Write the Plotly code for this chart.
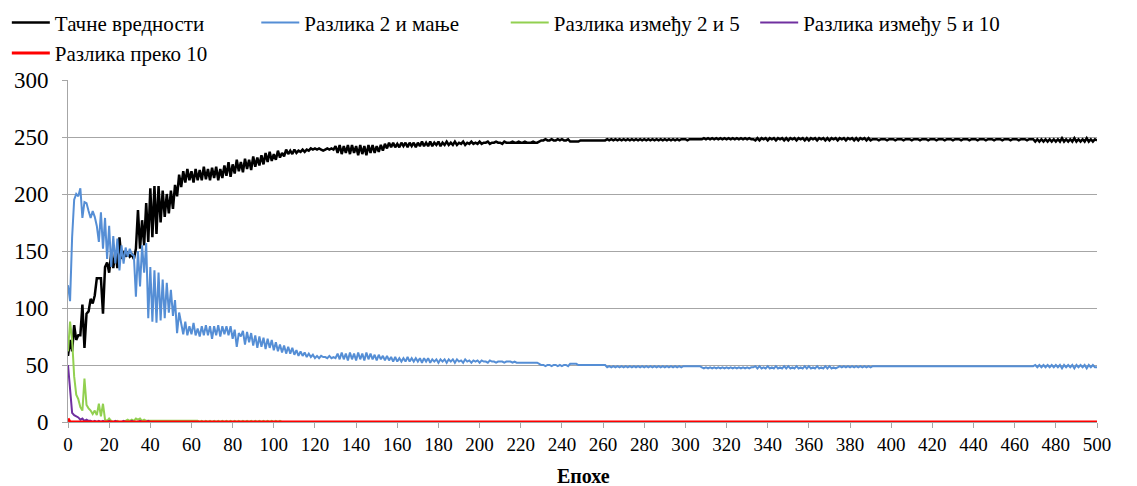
import plotly.graph_objects as go

# ---------------- data ----------------
series_names = ["Тачне вредности", "Разлика 2 и мање", "Разлика између 2 и 5",
                "Разлика између 5 и 10", "Разлика преко 10"]
x_title = "Епохе"
x_ticks = list(range(0, 501, 20))
y_ticks = [0, 50, 100, 150, 200, 250, 300]

exact = [
    58,72,62,85,72,76,76,103,65,95,
    97,108,104,111,126,126,126,95,136,140,
    131,148,135,150,135,162,143,150,145,148,
    145,147,143,152,186,152,177,155,192,158,
    205,162,207,165,207,175,203,180,200,183,
    203,187,208,198,217,206,220,210,222,212,
    220,210,222,212,221,212,224,213,222,212,
    223,214,224,212,222,214,225,216,228,215,
    226,218,230,220,228,219,231,222,230,221,
    233,224,232,225,234,226,236,228,237,229,
    235,230,238,232,236,233,239,235,238,235,
    239,236,238,237,239,237,239,238,240,239,
    240,239,240,239,238,239,240,239,240,239,
    242,236,243,235,242,236,243,235,243,236,
    242,234,243,235,242,234,243,236,243,236,
    242,237,243,238,244,240,245,241,245,241,
    244,241,245,242,245,241,245,242,245,241,
    245,242,246,242,245,242,246,242,245,243,
    246,242,245,243,246,243,245,243,246,243,
    245,244,246,243,245,244,246,244,245,244,
    246,244,245,245,246,244,245,245,246,245,
    245,244,246,245,245,245,246,245,245,246,
    245,245,246,245,245,245,246,245,245,246,
    247,247,248,247,247,248,247,247,248,247,
    248,247,247,248,246,246,246,246,246,247,
    247,247,247,247,247,247,247,247,247,247,
    247,247,248,247,248,247,248,247,248,247,
    248,247,248,247,248,247,248,247,248,247,
    248,247,248,247,248,247,248,247,248,247,
    248,247,248,247,248,247,248,247,248,248,
    248,247,248,248,248,248,248,248,248,249,
    248,249,248,249,248,249,248,249,248,249,
    248,249,248,249,248,249,248,249,248,249,
    248,249,248,248,247,249,247,249,248,249,
    247,249,248,249,247,249,248,249,247,249,
    247,249,248,249,247,249,248,249,247,249,
    247,249,248,249,247,249,248,249,247,249,
    247,249,248,249,247,249,248,249,247,249,
    248,249,247,249,247,249,248,249,247,249,
    247,248,248,248,247,248,248,248,247,248,
    248,248,247,248,248,248,247,248,248,248,
    247,248,248,248,247,248,248,248,247,248,
    248,248,247,248,248,248,247,248,248,248,
    247,248,248,248,247,248,248,248,247,248,
    248,248,247,248,248,248,247,248,248,248,
    247,248,248,248,247,248,248,248,247,248,
    248,248,247,248,248,248,247,248,248,248,
    246,248,246,248,246,248,246,248,246,248,
    246,248,246,249,246,248,246,248,246,249,
    246,248,246,248,246,249,246,248,246,248,
    247,
]

diff_le2 = [
    120,106,162,195,200,198,205,179,193,192,
    185,179,185,180,172,158,184,152,179,143,
    172,136,163,139,161,133,155,139,153,145,
    152,147,146,110,150,119,155,131,157,91,
    136,88,133,87,131,89,125,91,122,96,
    116,93,107,78,96,85,77,88,76,84,
    77,87,76,82,75,84,76,85,76,84,
    73,84,76,85,75,84,77,84,76,84,
    73,81,66,78,75,80,68,79,70,78,
    67,76,65,75,66,74,64,73,65,72,
    63,70,62,68,61,67,60,66,60,65,
    59,63,58,62,58,61,57,60,57,59,
    56,58,56,58,57,57,56,58,56,57,
    56,60,55,61,55,60,54,61,55,60,
    54,61,55,60,54,61,55,60,55,59,
    54,59,55,58,54,58,54,57,53,57,
    53,56,53,56,53,57,53,56,53,56,
    53,56,52,56,53,56,52,55,53,55,
    52,55,53,55,52,55,53,55,52,55,
    53,54,52,55,53,54,52,54,53,54,
    52,54,53,53,52,54,53,53,52,53,
    53,53,52,53,53,53,52,53,52,52,
    52,52,52,52,52,52,52,52,52,51,
    50,50,49,50,50,49,50,50,49,50,
    49,50,50,49,51,51,51,51,50,50,
    50,50,50,50,50,50,50,50,50,50,
    50,50,48,49,48,49,48,49,48,49,
    48,49,48,49,48,49,48,49,48,49,
    48,49,48,49,48,49,48,49,48,49,
    48,49,48,49,48,49,48,49,48,49,
    49,49,49,49,49,49,49,49,48,47,
    48,47,48,47,48,47,48,47,48,47,
    48,47,48,47,48,47,48,47,48,47,
    48,47,48,48,49,47,49,47,48,47,
    49,47,48,47,49,47,48,47,49,47,
    49,47,48,47,49,47,48,47,49,47,
    49,47,48,47,49,47,48,47,49,47,
    49,47,48,47,48,49,48,49,48,49,
    48,49,48,49,48,49,48,49,48,49,
    48,49,49,49,49,49,49,49,49,49,
    49,49,49,49,49,49,49,49,49,49,
    49,49,49,49,49,49,49,49,49,49,
    49,49,49,49,49,49,49,49,49,49,
    49,49,49,49,49,49,49,49,49,49,
    49,49,49,49,49,49,49,49,49,49,
    49,49,49,49,49,49,49,49,49,49,
    49,49,49,49,49,49,49,49,49,49,
    50,48,50,48,50,48,50,48,50,48,
    50,48,50,47,50,48,50,48,50,47,
    50,48,50,48,50,47,50,48,50,48,
    48,
]

# epochs 0-109 explicit, then zeros for 110-500 (391 values)
diff_2_5 = [
    62,88,72,40,24,20,13,10,38,15,
    12,10,7,10,6,16,5,16,2,1,
    3,1,0,0,1,0,0,0,1,2,
    1,2,1,3,2,3,1,2,1,1,
    1,1,1,1,1,1,1,1,1,1,
    1,1,1,1,1,1,1,1,1,1,
    1,1,1,1,0,1,0,1,0,1,
    0,1,0,1,0,1,0,1,0,1,
    0,1,0,1,0,1,0,1,0,1,
    0,1,0,1,0,1,0,1,0,1,
    0,1,0,1,0,0,0,0,0,0,
    # 110-159
    0,0,0,0,0,0,0,0,0,0, 0,0,0,0,0,0,0,0,0,0, 0,0,0,0,0,0,0,0,0,0, 0,0,0,0,0,0,0,0,0,0, 0,0,0,0,0,0,0,0,0,0,
    # 160-209
    0,0,0,0,0,0,0,0,0,0, 0,0,0,0,0,0,0,0,0,0, 0,0,0,0,0,0,0,0,0,0, 0,0,0,0,0,0,0,0,0,0, 0,0,0,0,0,0,0,0,0,0,
    # 210-259
    0,0,0,0,0,0,0,0,0,0, 0,0,0,0,0,0,0,0,0,0, 0,0,0,0,0,0,0,0,0,0, 0,0,0,0,0,0,0,0,0,0, 0,0,0,0,0,0,0,0,0,0,
    # 260-309
    0,0,0,0,0,0,0,0,0,0, 0,0,0,0,0,0,0,0,0,0, 0,0,0,0,0,0,0,0,0,0, 0,0,0,0,0,0,0,0,0,0, 0,0,0,0,0,0,0,0,0,0,
    # 310-359
    0,0,0,0,0,0,0,0,0,0, 0,0,0,0,0,0,0,0,0,0, 0,0,0,0,0,0,0,0,0,0, 0,0,0,0,0,0,0,0,0,0, 0,0,0,0,0,0,0,0,0,0,
    # 360-409
    0,0,0,0,0,0,0,0,0,0, 0,0,0,0,0,0,0,0,0,0, 0,0,0,0,0,0,0,0,0,0, 0,0,0,0,0,0,0,0,0,0, 0,0,0,0,0,0,0,0,0,0,
    # 410-459
    0,0,0,0,0,0,0,0,0,0, 0,0,0,0,0,0,0,0,0,0, 0,0,0,0,0,0,0,0,0,0, 0,0,0,0,0,0,0,0,0,0, 0,0,0,0,0,0,0,0,0,0,
    # 460-500
    0,0,0,0,0,0,0,0,0,0, 0,0,0,0,0,0,0,0,0,0, 0,0,0,0,0,0,0,0,0,0, 0,0,0,0,0,0,0,0,0,0, 0,
]

# epochs 0-49 explicit, then zeros for 50-500 (451 values)
diff_5_10 = [
    50,30,8,6,5,4,2,3,1,2,
    1,1,0,1,0,1,0,1,0,0,
    1,0,0,1,0,0,0,1,0,0,
    0,1,0,0,0,1,0,0,0,1,
    0,0,0,0,0,0,0,0,0,0,
    # 50-99
    0,0,0,0,0,0,0,0,0,0, 0,0,0,0,0,0,0,0,0,0, 0,0,0,0,0,0,0,0,0,0, 0,0,0,0,0,0,0,0,0,0, 0,0,0,0,0,0,0,0,0,0,
    # 100-149
    0,0,0,0,0,0,0,0,0,0, 0,0,0,0,0,0,0,0,0,0, 0,0,0,0,0,0,0,0,0,0, 0,0,0,0,0,0,0,0,0,0, 0,0,0,0,0,0,0,0,0,0,
    # 150-199
    0,0,0,0,0,0,0,0,0,0, 0,0,0,0,0,0,0,0,0,0, 0,0,0,0,0,0,0,0,0,0, 0,0,0,0,0,0,0,0,0,0, 0,0,0,0,0,0,0,0,0,0,
    # 200-249
    0,0,0,0,0,0,0,0,0,0, 0,0,0,0,0,0,0,0,0,0, 0,0,0,0,0,0,0,0,0,0, 0,0,0,0,0,0,0,0,0,0, 0,0,0,0,0,0,0,0,0,0,
    # 250-299
    0,0,0,0,0,0,0,0,0,0, 0,0,0,0,0,0,0,0,0,0, 0,0,0,0,0,0,0,0,0,0, 0,0,0,0,0,0,0,0,0,0, 0,0,0,0,0,0,0,0,0,0,
    # 300-349
    0,0,0,0,0,0,0,0,0,0, 0,0,0,0,0,0,0,0,0,0, 0,0,0,0,0,0,0,0,0,0, 0,0,0,0,0,0,0,0,0,0, 0,0,0,0,0,0,0,0,0,0,
    # 350-399
    0,0,0,0,0,0,0,0,0,0, 0,0,0,0,0,0,0,0,0,0, 0,0,0,0,0,0,0,0,0,0, 0,0,0,0,0,0,0,0,0,0, 0,0,0,0,0,0,0,0,0,0,
    # 400-449
    0,0,0,0,0,0,0,0,0,0, 0,0,0,0,0,0,0,0,0,0, 0,0,0,0,0,0,0,0,0,0, 0,0,0,0,0,0,0,0,0,0, 0,0,0,0,0,0,0,0,0,0,
    # 450-499
    0,0,0,0,0,0,0,0,0,0, 0,0,0,0,0,0,0,0,0,0, 0,0,0,0,0,0,0,0,0,0, 0,0,0,0,0,0,0,0,0,0, 0,0,0,0,0,0,0,0,0,0,
    # 500
    0,
]

# epochs 0-9 explicit, then zeros for 10-500 (491 values)
diff_over10 = [
    3,0,0,0,0,0,0,0,0,0,
    # 10-59
    0,0,0,0,0,0,0,0,0,0, 0,0,0,0,0,0,0,0,0,0, 0,0,0,0,0,0,0,0,0,0, 0,0,0,0,0,0,0,0,0,0, 0,0,0,0,0,0,0,0,0,0,
    # 60-109
    0,0,0,0,0,0,0,0,0,0, 0,0,0,0,0,0,0,0,0,0, 0,0,0,0,0,0,0,0,0,0, 0,0,0,0,0,0,0,0,0,0, 0,0,0,0,0,0,0,0,0,0,
    # 110-159
    0,0,0,0,0,0,0,0,0,0, 0,0,0,0,0,0,0,0,0,0, 0,0,0,0,0,0,0,0,0,0, 0,0,0,0,0,0,0,0,0,0, 0,0,0,0,0,0,0,0,0,0,
    # 160-209
    0,0,0,0,0,0,0,0,0,0, 0,0,0,0,0,0,0,0,0,0, 0,0,0,0,0,0,0,0,0,0, 0,0,0,0,0,0,0,0,0,0, 0,0,0,0,0,0,0,0,0,0,
    # 210-259
    0,0,0,0,0,0,0,0,0,0, 0,0,0,0,0,0,0,0,0,0, 0,0,0,0,0,0,0,0,0,0, 0,0,0,0,0,0,0,0,0,0, 0,0,0,0,0,0,0,0,0,0,
    # 260-309
    0,0,0,0,0,0,0,0,0,0, 0,0,0,0,0,0,0,0,0,0, 0,0,0,0,0,0,0,0,0,0, 0,0,0,0,0,0,0,0,0,0, 0,0,0,0,0,0,0,0,0,0,
    # 310-359
    0,0,0,0,0,0,0,0,0,0, 0,0,0,0,0,0,0,0,0,0, 0,0,0,0,0,0,0,0,0,0, 0,0,0,0,0,0,0,0,0,0, 0,0,0,0,0,0,0,0,0,0,
    # 360-409
    0,0,0,0,0,0,0,0,0,0, 0,0,0,0,0,0,0,0,0,0, 0,0,0,0,0,0,0,0,0,0, 0,0,0,0,0,0,0,0,0,0, 0,0,0,0,0,0,0,0,0,0,
    # 410-459
    0,0,0,0,0,0,0,0,0,0, 0,0,0,0,0,0,0,0,0,0, 0,0,0,0,0,0,0,0,0,0, 0,0,0,0,0,0,0,0,0,0, 0,0,0,0,0,0,0,0,0,0,
    # 460-500
    0,0,0,0,0,0,0,0,0,0, 0,0,0,0,0,0,0,0,0,0, 0,0,0,0,0,0,0,0,0,0, 0,0,0,0,0,0,0,0,0,0, 0,
]

# ---------------- styling ----------------
colors = ["#000000", "#558ED5", "#92D050", "#7030A0", "#FF0000"]
widths = [2.5, 2, 2, 2, 3]
SERIF = "Liberation Serif"
GRID = "#a6a6a6"

fig = go.Figure()
for name, vals, c, w in zip(series_names,
                            [exact, diff_le2, diff_2_5, diff_5_10, diff_over10],
                            colors, widths):
    fig.add_trace(go.Scatter(x=list(range(len(vals))), y=vals, mode="lines",
                             name=name, line=dict(color=c, width=w)))

fig.update_layout(
    width=1137, height=486,
    margin=dict(l=68, r=40, t=80, b=64, autoexpand=False),
    plot_bgcolor="white", paper_bgcolor="white",
    showlegend=True,
    legend=dict(orientation="h", xref="container", yref="container",
                x=0.006, y=0.995, xanchor="left", yanchor="top",
                font=dict(family=SERIF, size=21, color="black"),
                itemwidth=38, tracegroupgap=0, bgcolor="rgba(0,0,0,0)"),
    xaxis=dict(range=[0, 500], tickvals=x_ticks, showgrid=False,
               showline=True, linecolor=GRID, linewidth=1,
               ticks="outside", ticklen=5, tickcolor=GRID, tickwidth=1,
               tickfont=dict(family=SERIF, size=19, color="black"),
               zeroline=False, automargin=False),
    yaxis=dict(range=[0, 300], tickvals=y_ticks, showgrid=True,
               gridcolor=GRID, gridwidth=1,
               showline=True, linecolor=GRID, linewidth=1,
               ticks="outside", ticklen=5, tickcolor=GRID, tickwidth=1,
               ticklabelstandoff=9,
               tickfont=dict(family=SERIF, size=23, color="black"),
               zeroline=False, automargin=False),
)
fig.add_annotation(text="<b>" + x_title + "</b>", xref="paper", yref="paper",
                   x=0.501, y=-0.158, yanchor="middle", showarrow=False,
                   font=dict(family=SERIF, size=20, color="black"))

fig.write_html("out.html", config={"displayModeBar": False},
               post_script="document.body.style.margin='0';")
